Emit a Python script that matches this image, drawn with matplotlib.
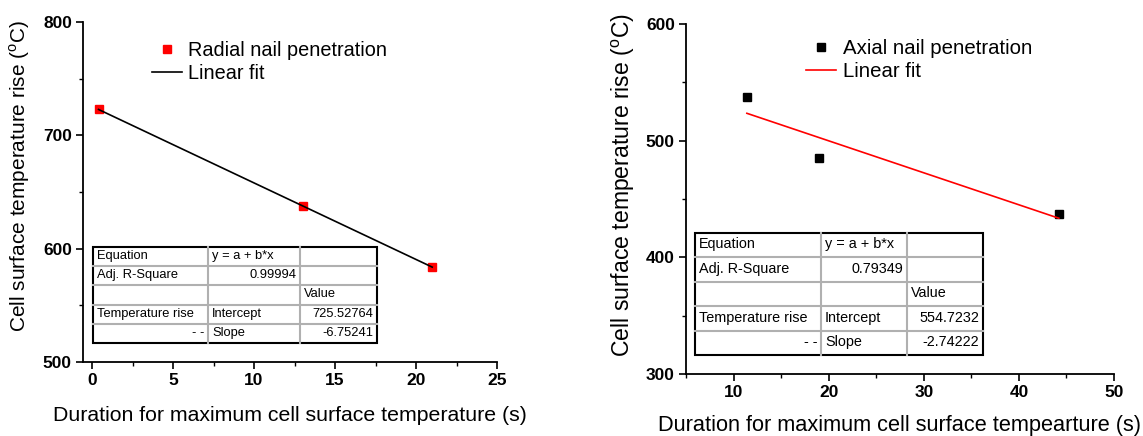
import matplotlib.pyplot as plt
from matplotlib.lines import Line2D
from matplotlib.ticker import MultipleLocator

plt.rcParams["font.family"] = ["Liberation Sans", "DejaVu Sans"]
plt.rcParams["mathtext.fontset"] = "custom"
plt.rcParams["mathtext.rm"] = "Liberation Sans"

W, H = 1143, 436

# ---------------- data ----------------
radial_x = [0.4, 13.0, 21.0]
radial_y = [723, 638, 584]
radial_a = 725.52764
radial_b = -6.75241
radial_r2 = "0.99994"

axial_x = [11.4, 19.0, 44.2]
axial_y = [537, 485, 437]
axial_a = 554.7232
axial_b = -2.74222
axial_r2 = "0.79349"


def fx(px):
    return px / W


def fy(py):
    return 1 - py / H


def draw_table(fig, x0, x1, x2, x3, y0, y1, r2, a, b, fs):
    # pixel box of the fit table
    rows = 5
    rh = (y1 - y0) / rows
    grey = "#b0b0b0"
    for i in range(1, rows):
        y = y0 + i * rh
        fig.add_artist(Line2D([fx(x0), fx(x3)], [fy(y), fy(y)], color=grey, lw=1.5))
    for x in (x1, x2):
        fig.add_artist(Line2D([fx(x), fx(x)], [fy(y0), fy(y1)], color=grey, lw=1.5))
    fig.add_artist(plt.Rectangle((fx(x0), fy(y1)), fx(x3 - x0), (y1 - y0) / H,
                                 fill=False, ec="black", lw=1.5))
    pad = 4
    cells = [
        (0, x0 + pad, "left", "Equation"),
        (0, x1 + pad, "left", "y = a + b*x"),
        (1, x0 + pad, "left", "Adj. R-Square"),
        (1, x2 - pad, "right", r2),
        (2, x2 + pad, "left", "Value"),
        (3, x0 + pad, "left", "Temperature rise"),
        (3, x1 + pad, "left", "Intercept"),
        (3, x3 - pad, "right", str(a)),
        (4, x1 - pad, "right", "- -"),
        (4, x1 + pad, "left", "Slope"),
        (4, x3 - pad, "right", str(b)),
    ]
    for r, x, ha, s in cells:
        yc = y0 + (r + 0.47) * rh
        fig.text(fx(x), fy(yc), s, ha=ha, va="center", fontsize=fs)


def style_axes(ax, fs):
    ax.spines["top"].set_visible(False)
    ax.spines["right"].set_visible(False)
    ax.spines["left"].set_linewidth(1.3)
    ax.spines["bottom"].set_linewidth(1.3)
    ax.tick_params(which="major", direction="out", length=5, width=1.2, labelsize=fs, pad=3)
    ax.tick_params(which="minor", direction="out", length=3, width=1.0)
    for lab in ax.get_xticklabels() + ax.get_yticklabels():
        lab.set_fontweight("bold")


fig = plt.figure(figsize=(W / 100, H / 100), dpi=100)

# ---------------- left panel ----------------
ax1 = fig.add_axes([fx(83), fy(362), fx(497 - 83), (362 - 22) / H])
ax1.plot(radial_x, radial_y, "s", color="red", ms=5.5, label="Radial nail penetration")
fit1 = [radial_a + radial_b * x for x in (radial_x[0], radial_x[-1])]
ax1.plot([radial_x[0], radial_x[-1]], fit1, color="black", lw=1.2, label="Linear fit")
ax1.set_xlim(-0.56, 25)
ax1.set_ylim(500, 800)
ax1.xaxis.set_major_locator(MultipleLocator(5))
ax1.xaxis.set_minor_locator(MultipleLocator(2.5))
ax1.yaxis.set_major_locator(MultipleLocator(100))
ax1.yaxis.set_minor_locator(MultipleLocator(50))
style_axes(ax1, 12.5)
ax1.set_xlabel("Duration for maximum cell surface temperature (s)", fontsize=15.3, labelpad=13)
ax1.legend(loc="upper left", bbox_to_anchor=(fx(152), fy(41)), bbox_transform=fig.transFigure,
           frameon=False, fontsize=14.3, borderpad=0, borderaxespad=0,
           handlelength=1.5, handletextpad=0.3, labelspacing=0.2)
fig.text(fx(20), fy(176), r"Cell surface temperature rise ($^{\mathregular{o}}$C)",
         rotation=90, ha="center", va="center", fontsize=15.0)
draw_table(fig, 93, 208, 300, 377, 247, 343, radial_r2, radial_a, radial_b, 9.3)

# ---------------- right panel ----------------
ax2 = fig.add_axes([fx(686), fy(374), fx(1114 - 686), (374 - 24) / H])
ax2.plot(axial_x, axial_y, "s", color="black", ms=5.5, label="Axial nail penetration")
fit2 = [axial_a + axial_b * x for x in (axial_x[0], axial_x[-1])]
ax2.plot([axial_x[0], axial_x[-1]], fit2, color="red", lw=1.2, label="Linear fit")
ax2.set_xlim(5, 50)
ax2.set_ylim(300, 600)
ax2.xaxis.set_major_locator(MultipleLocator(10))
ax2.xaxis.set_minor_locator(MultipleLocator(5))
ax2.yaxis.set_major_locator(MultipleLocator(100))
ax2.yaxis.set_minor_locator(MultipleLocator(50))
style_axes(ax2, 12.5)
ax2.set_xlabel("Duration for maximum cell surface tempearture (s)", fontsize=15.7, labelpad=11)
ax2.legend(loc="upper left", bbox_to_anchor=(fx(806), fy(39)), bbox_transform=fig.transFigure,
           frameon=False, fontsize=14.7, borderpad=0, borderaxespad=0,
           handlelength=1.47, handletextpad=0.34, labelspacing=0.2)
fig.text(fx(623), fy(185), r"Cell surface temperature rise ($^{\mathregular{o}}$C)",
         rotation=90, ha="center", va="center", fontsize=16.6)
draw_table(fig, 695, 821, 907, 983, 233, 355, axial_r2, axial_a, axial_b, 10.4)

fig.savefig("out.png", dpi=100)
